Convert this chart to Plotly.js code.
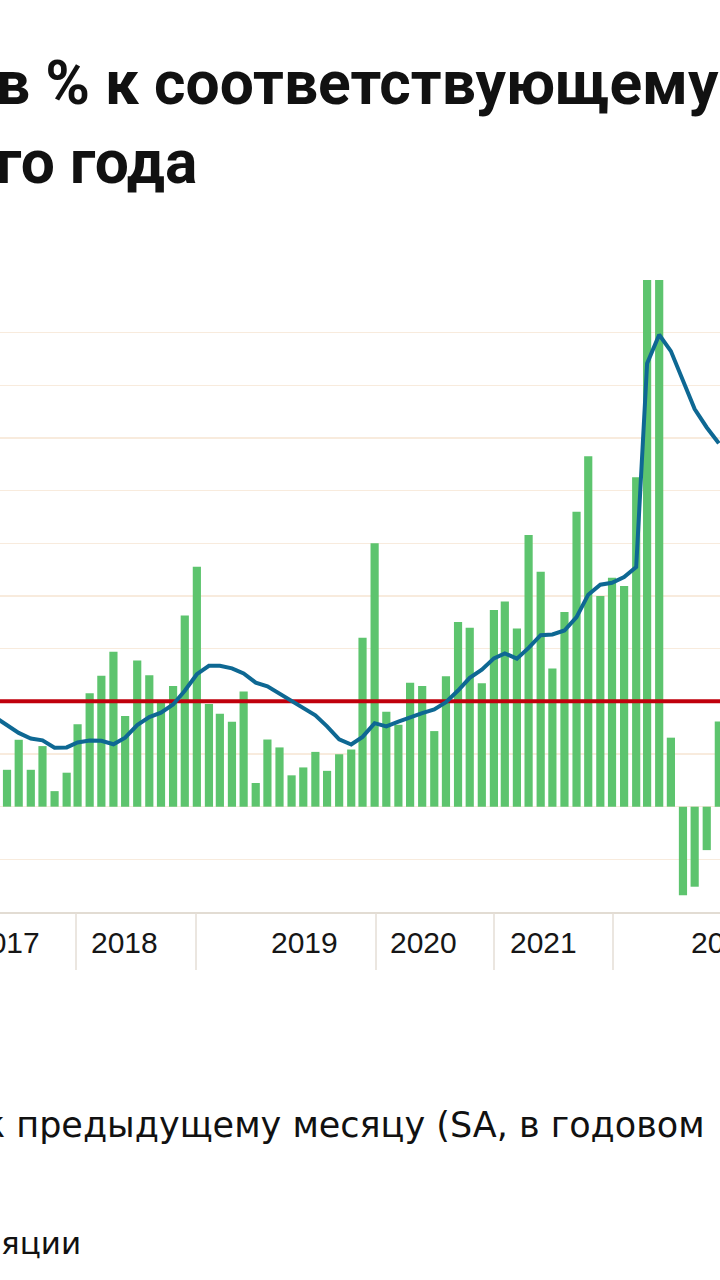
<!DOCTYPE html>
<html>
<head>
<meta charset="utf-8">
<script src="https://cdn.plot.ly/plotly-3.0.1.min.js"></script>
<style>
  html, body { margin: 0; padding: 0; background: #ffffff; }
  #chart { width: 720px; height: 1280px; }
</style>
</head>
<body>
<div id="chart"></div>
<script>
// Months (first point only feeds the line, which runs off the left edge)
const months = [
  '2017-08','2017-09','2017-10','2017-11','2017-12',
  '2018-01','2018-02','2018-03','2018-04','2018-05','2018-06','2018-07','2018-08','2018-09','2018-10','2018-11','2018-12',
  '2019-01','2019-02','2019-03','2019-04','2019-05','2019-06','2019-07','2019-08','2019-09','2019-10','2019-11','2019-12',
  '2020-01','2020-02','2020-03','2020-04','2020-05','2020-06','2020-07','2020-08','2020-09','2020-10','2020-11','2020-12',
  '2021-01','2021-02','2021-03','2021-04','2021-05','2021-06','2021-07','2021-08','2021-09','2021-10','2021-11','2021-12',
  '2022-01','2022-02','2022-03','2022-04','2022-05','2022-06','2022-07','2022-08','2022-09'
];

// Monthly inflation, SA, annualised (%), bars
const monthlySAAR = [
  null, 1.40, 2.54, 1.40, 2.30,
  0.59, 1.29, 3.13, 4.31, 4.97, 5.88, 3.44, 5.55, 4.99, 3.94, 4.58, 7.26,
  9.11, 3.90, 3.53, 3.22, 4.37, 0.90, 2.55, 2.25, 1.19, 1.49, 2.08, 1.36,
  1.99, 2.17, 6.41, 10.0, 3.60, 3.11, 4.71, 4.58, 2.87, 4.95, 7.01, 6.79,
  4.69, 7.47, 7.79, 6.77, 10.32, 8.92, 5.25, 7.39, 11.2, 13.31, 8.0, 8.69,
  8.38, 12.51, 40, 22, 2.62, -3.36, -3.04, -1.65, 3.23
];

// Inflation, % to the same month of previous year, line
const yoyCPI = [
  3.40, 3.08, 2.80, 2.59, 2.52,
  2.24, 2.25, 2.44, 2.51, 2.50, 2.37, 2.62, 3.10, 3.40, 3.57, 3.88, 4.40,
  5.03, 5.35, 5.35, 5.25, 5.06, 4.71, 4.57, 4.30, 4.00, 3.75, 3.47, 3.05,
  2.56, 2.36, 2.65, 3.17, 3.05, 3.23, 3.40, 3.55, 3.69, 3.97, 4.41, 4.89,
  5.20, 5.63, 5.82, 5.62, 6.03, 6.51, 6.54, 6.69, 7.20, 8.05, 8.43, 8.50,
  8.72, 9.10, 16.83, 17.92, 17.30, 16.20, 15.10, 14.40, 13.80
];

// Inflation target (%)
const TARGET = 4;

// Axis labels (year groups) and group separators
const yearLabels = ['2017', '2018', '2019', '2020', '2021', '2022'];
const yearLabelPx = [6, 124, 304, 423, 543, 724];
const separatorPx = [76, 196, 376, 494, 613];

const titleText = 'в % к соответствующему<br>го года';
const legendLine1 = 'к предыдущему месяцу (SA, в годовом';
const legendLine2 = 'яции';

const W = 720, H = 1280;
const plotTop = 280, plotBottom = 912;
const plotH = plotBottom - plotTop;
const xRange = ['2017-08-14', '2022-09-04'];

const pyPaper = (py) => (plotBottom - py) / plotH;

const traces = [
  {
    type: 'bar',
    x: months,
    y: monthlySAAR,
    marker: { color: '#5dc46e', line: { width: 0 } },
    hoverinfo: 'x+y'
  },
  {
    type: 'scatter',
    mode: 'lines',
    x: xRange,
    y: [TARGET, TARGET],
    line: { color: '#c0000c', width: 4 },
    hoverinfo: 'skip'
  },
  {
    type: 'scatter',
    mode: 'lines',
    x: months,
    y: yoyCPI,
    line: { color: '#0e6893', width: 4 },
    hoverinfo: 'x+y'
  }
];

const annotations = [];
// Title (left part is cropped in the reference, so it starts at the edge)
annotations.push({
  text: titleText, showarrow: false, align: 'left',
  xref: 'paper', x: -6 / W, xanchor: 'left',
  yref: 'paper', y: pyPaper(123), yanchor: 'middle',
  font: { family: 'Roboto, sans-serif', size: 60.5, color: '#111111', weight: 'bold' }
});
yearLabels.forEach((t, i) => {
  annotations.push({
    text: t, showarrow: false,
    xref: 'paper', x: yearLabelPx[i] / W, xanchor: 'center',
    yref: 'paper', y: pyPaper(942), yanchor: 'middle',
    font: { family: 'Liberation Sans, Arial, sans-serif', size: 30, color: '#161616' }
  });
});
annotations.push({
  text: legendLine1, showarrow: false,
  xref: 'paper', x: -18 / W, xanchor: 'left',
  yref: 'paper', y: pyPaper(1125), yanchor: 'middle',
  font: { family: 'DejaVu Sans, sans-serif', size: 35, color: '#111111' }
});
annotations.push({
  text: legendLine2, showarrow: false,
  xref: 'paper', x: -1 / W, xanchor: 'left',
  yref: 'paper', y: pyPaper(1243), yanchor: 'middle',
  font: { family: 'DejaVu Sans, sans-serif', size: 31, color: '#111111' }
});

const shapes = separatorPx.map(px => ({
  type: 'line', xref: 'paper', yref: 'paper',
  x0: px / W, x1: px / W, y0: pyPaper(913), y1: pyPaper(970),
  line: { color: '#e4ded6', width: 1.5 }
}));

const layout = {
  width: W, height: H,
  margin: { l: 0, r: 0, t: plotTop, b: H - plotBottom, pad: 0 },
  paper_bgcolor: '#ffffff',
  plot_bgcolor: '#ffffff',
  showlegend: false,
  bargap: 0.25,
  xaxis: {
    type: 'date', range: xRange,
    showticklabels: false, ticks: '', showgrid: false, zeroline: false,
    showline: true, linecolor: '#e2dcd3', linewidth: 2, fixedrange: true
  },
  yaxis: {
    range: [-4, 20], tick0: 0, dtick: 2,
    showticklabels: false, ticks: '', showgrid: true,
    gridcolor: '#f8ebdd', gridwidth: 1.5, zeroline: false, showline: false,
    fixedrange: true
  },
  annotations: annotations,
  shapes: shapes
};

Plotly.newPlot('chart', traces, layout, { displayModeBar: false, staticPlot: true });
</script>
</body>
</html>
